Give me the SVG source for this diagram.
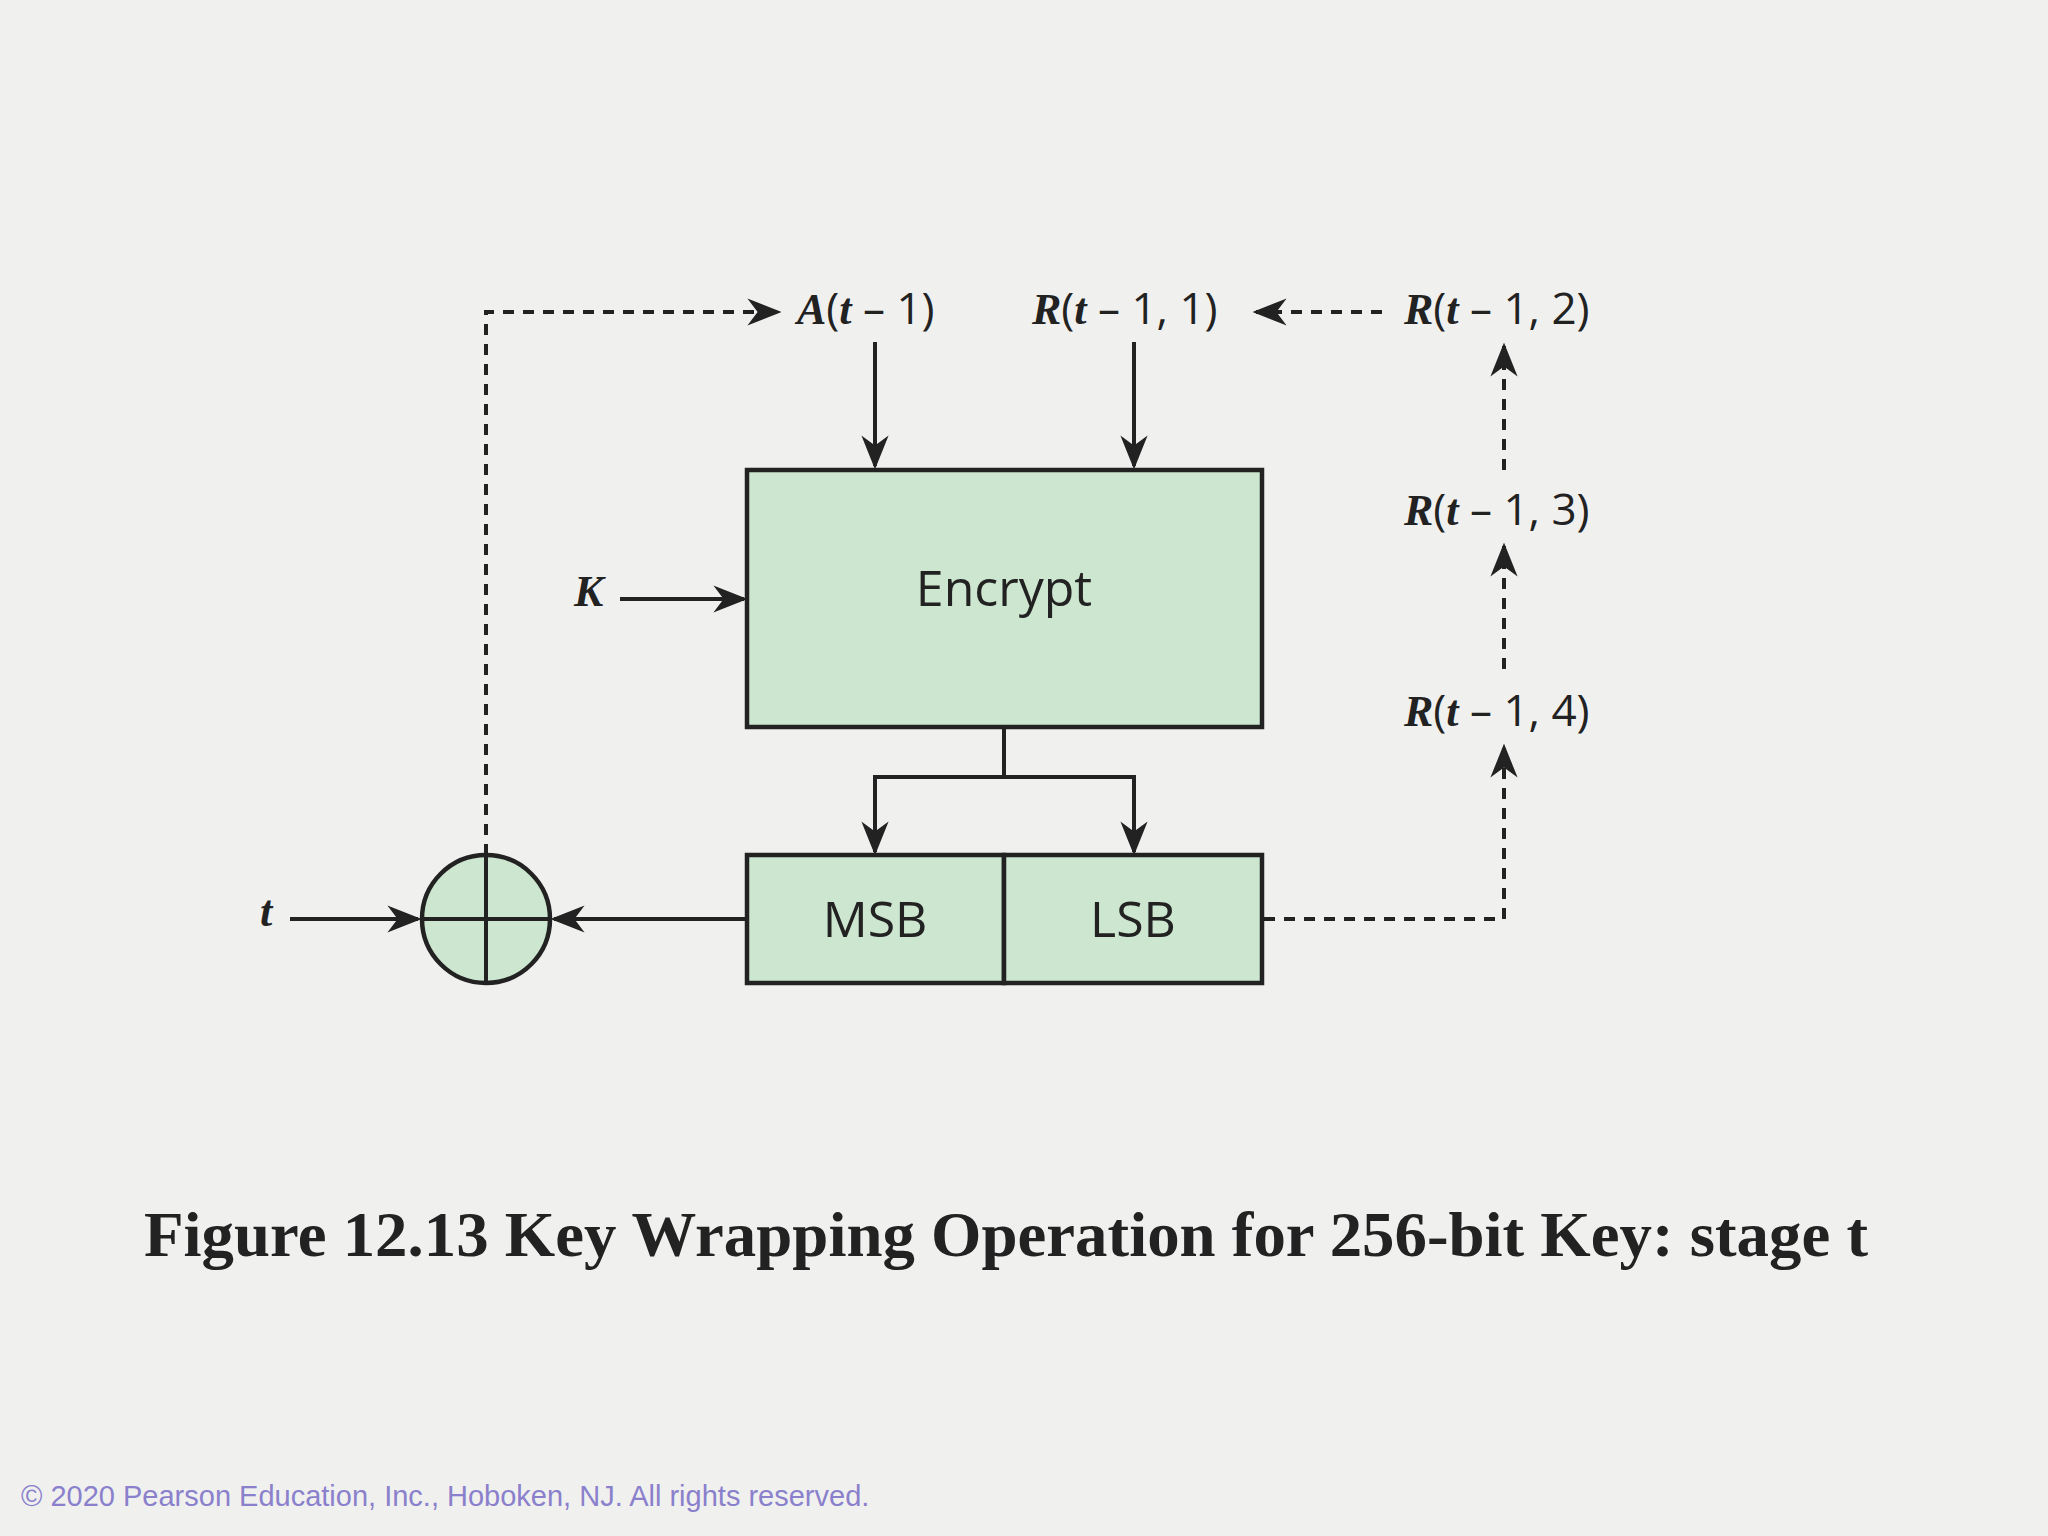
<svg xmlns="http://www.w3.org/2000/svg" width="2048" height="1536" viewBox="0 0 2048 1536">
<defs>
<marker id="a" viewBox="0 0 10 10" refX="9" refY="5" markerWidth="34" markerHeight="34" markerUnits="userSpaceOnUse" orient="auto"><path d="M0,1 L10,5 L0,9 L3,5 z" fill="#222"/></marker>
</defs>
<style>
.box{fill:#cce6cf;stroke:#222;stroke-width:4.5}
.ln{fill:none;stroke:#222;stroke-width:4}
.dl{fill:none;stroke:#222;stroke-width:4;stroke-dasharray:11 9}
.lab{font-family:"Open Sans","Liberation Sans",sans-serif;font-size:44px;fill:#222}
.it{font-family:"Liberation Serif",serif;font-style:italic;font-weight:bold}
.big{font-family:"Open Sans","Liberation Sans",sans-serif;font-size:50px;fill:#222;text-anchor:middle}
</style>
<rect width="2048" height="1536" fill="#f0f0ef"/>
<g id="connectors">
<path class="ln" d="M875,342 V466" marker-end="url(#a)"/>
<path class="ln" d="M1134,342 V466" marker-end="url(#a)"/>
<path class="ln" d="M620,599 H744" marker-end="url(#a)"/>
<path class="ln" d="M1004,727 V777 H875 V852" marker-end="url(#a)"/>
<path class="ln" d="M1004,777 H1134 V852" marker-end="url(#a)"/>
<path class="ln" d="M747,919 H554" marker-end="url(#a)"/>
<path class="ln" d="M290,919 H418" marker-end="url(#a)"/>
<path class="dl" d="M486,855 V312 H778" marker-end="url(#a)"/>
<path class="dl" d="M1382,312 H1256" marker-end="url(#a)"/>
<path class="dl" d="M1264,919 H1504 V747" marker-end="url(#a)"/>
<path class="dl" d="M1504,669 V546" marker-end="url(#a)"/>
<path class="dl" d="M1504,470 V346" marker-end="url(#a)"/>
</g>
<g id="encrypt"><rect class="box" x="747" y="470" width="515" height="257"/><text class="big" x="1004" y="606">Encrypt</text></g>
<g id="msb"><rect class="box" x="747" y="855" width="257" height="128"/><text class="big" x="875" y="937">MSB</text></g>
<g id="lsb"><rect class="box" x="1004" y="855" width="258" height="128"/><text class="big" x="1133" y="937">LSB</text></g>
<g id="xor"><circle class="box" cx="486" cy="919" r="64"/><path class="ln" d="M486,855 V983 M422,919 H550"/></g>
<g id="labels">
<text class="lab it" x="260" y="926" font-size="48">t</text>
<text class="lab it" x="574" y="606" font-size="50">K</text>
<text class="lab" x="797" y="324"><tspan class="it">A</tspan>(<tspan class="it">t</tspan> – 1)</text>
<text class="lab" x="1032" y="324"><tspan class="it">R</tspan>(<tspan class="it">t</tspan> – 1, 1)</text>
<text class="lab" x="1404" y="324"><tspan class="it">R</tspan>(<tspan class="it">t</tspan> – 1, 2)</text>
<text class="lab" x="1404" y="525"><tspan class="it">R</tspan>(<tspan class="it">t</tspan> – 1, 3)</text>
<text class="lab" x="1404" y="726"><tspan class="it">R</tspan>(<tspan class="it">t</tspan> – 1, 4)</text>
</g>
<text x="144" y="1256" font-family="Liberation Serif,serif" font-weight="bold" font-size="64" fill="#222" textLength="1724" lengthAdjust="spacingAndGlyphs">Figure 12.13  Key Wrapping Operation for 256-bit Key: stage t</text>
<text x="21" y="1506" font-family="Liberation Sans,sans-serif" font-size="29" fill="#8a80cc">© 2020 Pearson Education, Inc., Hoboken, NJ. All rights reserved.</text>
</svg>
